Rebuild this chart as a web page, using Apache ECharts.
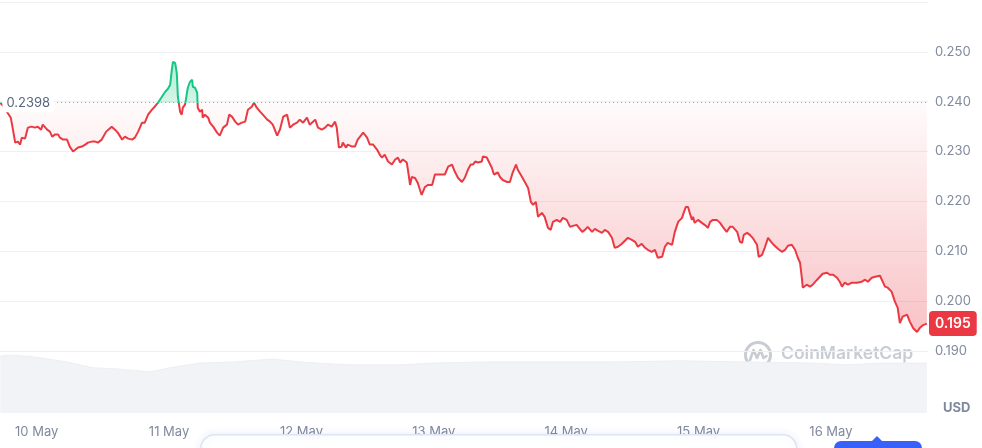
<!DOCTYPE html>
<html>
<head>
<meta charset="utf-8">
<script src="https://cdn.jsdelivr.net/npm/echarts@6/dist/echarts.min.js"></script>
<style>
html,body{margin:0;padding:0;background:#ffffff;}
#chart{width:982px;height:448px;}
</style>
</head>
<body>
<div id="chart"></div>
<script>
// ---- data ----
const monthNames = ['Jan','Feb','Mar','Apr','May','Jun','Jul','Aug','Sep','Oct','Nov','Dec'];
const startDay = [2024, 4, 10];           // 10 May, hours below are offsets from its midnight
const axisHours = [-6.65, 161.6];          // visible time window (hours)
const openPrice = 0.2398;                  // baseline (opening price)
const lastPriceLabel = '0.195';
const yAxisRange = [0.19, 0.26];
const yInterval = 0.01;
const volumeRange = [0, 100];

// [hour offset, price USD]
const pricePoints = [
[-6.6,0.2398],[-6.1,0.2392],[-4.7,0.2368],[-4.3,0.2344],[-3.9,0.2318],[-3.6,0.2314],[-3.4,0.2320],[-3.0,0.2314],[-2.7,0.2328],[-2.1,0.2326],
[-1.6,0.2348],[-0.9,0.2350],[-0.3,0.2348],[0.2,0.2350],[0.8,0.2344],[1.1,0.2354],[1.9,0.2344],[2.4,0.2340],[2.8,0.2330],[3.3,0.2334],
[3.9,0.2334],[4.2,0.2328],[4.8,0.2324],[5.5,0.2324],[6.0,0.2310],[6.6,0.2300],[6.9,0.2298],[7.5,0.2308],[8.2,0.2310],[8.8,0.2314],
[9.3,0.2318],[10.0,0.2320],[10.6,0.2320],[11.1,0.2318],[11.8,0.2324],[12.6,0.2340],[12.9,0.2344],[13.6,0.2350],[14.2,0.2344],[14.7,0.2338],
[15.5,0.2324],[16.0,0.2330],[16.6,0.2326],[17.3,0.2324],[17.8,0.2328],[18.4,0.2340],[19.1,0.2358],[19.6,0.2358],[20.2,0.2374],[20.9,0.2384],
[21.4,0.2390],[22.0,0.2398],[22.7,0.2410],[23.3,0.2420],[23.8,0.2426],[24.2,0.2434],[24.5,0.2464],[24.7,0.2480],[25.1,0.2478],[25.4,0.2458],
[25.6,0.2410],[26.0,0.2380],[26.3,0.2374],[26.5,0.2388],[26.9,0.2394],[27.2,0.2398],[27.4,0.2428],[27.8,0.2440],[28.2,0.2444],[28.3,0.2430],
[28.7,0.2428],[29.1,0.2418],[29.2,0.2388],[29.6,0.2380],[30.0,0.2384],[30.1,0.2368],[30.5,0.2374],[31.1,0.2368],[31.4,0.2358],[32.0,0.2350],
[32.7,0.2338],[33.2,0.2332],[33.8,0.2348],[34.5,0.2354],[34.9,0.2374],[35.4,0.2370],[36.0,0.2360],[36.5,0.2354],[37.2,0.2358],[37.8,0.2360],
[38.3,0.2384],[39.0,0.2390],[39.4,0.2398],[39.9,0.2388],[40.5,0.2380],[41.0,0.2374],[41.8,0.2364],[42.3,0.2360],[42.8,0.2354],[43.6,0.2332],
[44.1,0.2344],[44.7,0.2370],[45.4,0.2374],[45.9,0.2348],[46.5,0.2354],[47.2,0.2358],[47.7,0.2364],[48.3,0.2358],[49.0,0.2368],[49.5,0.2354],
[50.1,0.2360],[50.5,0.2364],[51.0,0.2348],[51.7,0.2344],[52.3,0.2348],[52.8,0.2354],[53.5,0.2350],[54.1,0.2360],[54.4,0.2348],[54.8,0.2308],
[55.3,0.2310],[55.5,0.2318],[56.1,0.2308],[56.4,0.2314],[57.2,0.2310],[57.7,0.2310],[58.2,0.2324],[59.2,0.2338],[59.9,0.2328],[60.4,0.2314],
[61.0,0.2314],[61.7,0.2304],[62.2,0.2294],[62.6,0.2288],[63.1,0.2294],[63.7,0.2280],[64.4,0.2274],[65.0,0.2284],[65.5,0.2288],[65.9,0.2278],
[66.4,0.2284],[67.1,0.2278],[67.3,0.2264],[67.7,0.2233],[68.0,0.2249],[68.6,0.2247],[69.1,0.2237],[69.5,0.2223],[69.8,0.2213],[70.4,0.2229],
[70.9,0.2233],[71.7,0.2233],[72.2,0.2254],[72.7,0.2254],[73.5,0.2254],[74.0,0.2254],[74.6,0.2270],[75.3,0.2274],[75.8,0.2260],[76.4,0.2247],
[77.1,0.2239],[77.6,0.2247],[78.2,0.2264],[78.7,0.2274],[79.1,0.2274],[79.5,0.2280],[80.0,0.2278],[80.7,0.2280],[80.9,0.2290],[81.6,0.2288],
[81.8,0.2284],[82.5,0.2268],[82.9,0.2254],[83.6,0.2258],[84.0,0.2249],[84.5,0.2243],[85.3,0.2239],[85.8,0.2239],[86.3,0.2258],[86.9,0.2274],
[87.2,0.2264],[88.0,0.2249],[88.5,0.2239],[89.1,0.2227],[89.6,0.2199],[90.0,0.2193],[90.5,0.2199],[90.9,0.2169],[91.2,0.2165],[91.6,0.2177],
[92.1,0.2169],[92.7,0.2147],[93.2,0.2143],[93.6,0.2159],[94.3,0.2163],[94.9,0.2159],[95.4,0.2167],[96.1,0.2163],[96.7,0.2149],[97.2,0.2151],
[97.9,0.2153],[98.9,0.2139],[99.4,0.2143],[99.9,0.2149],[100.7,0.2139],[101.2,0.2145],[101.8,0.2141],[102.5,0.2137],[103.0,0.2143],[103.6,0.2139],
[104.3,0.2127],[104.8,0.2107],[105.4,0.2109],[106.1,0.2115],[107.2,0.2127],[107.9,0.2123],[108.5,0.2119],[109.0,0.2109],[109.7,0.2115],[110.3,0.2107],
[110.8,0.2103],[111.5,0.2099],[112.1,0.2103],[112.6,0.2087],[113.4,0.2089],[113.9,0.2109],[114.4,0.2117],[115.2,0.2113],[115.7,0.2139],[116.3,0.2159],
[117.0,0.2167],[117.3,0.2177],[117.7,0.2189],[118.1,0.2189],[118.4,0.2177],[118.8,0.2163],[119.0,0.2169],[119.3,0.2157],[119.9,0.2163],[120.6,0.2157],
[121.1,0.2153],[121.7,0.2147],[122.1,0.2159],[122.6,0.2163],[123.3,0.2163],[123.9,0.2157],[124.4,0.2149],[125.1,0.2139],[125.7,0.2149],[126.2,0.2149],
[127.0,0.2139],[127.5,0.2119],[127.9,0.2117],[128.2,0.2133],[128.8,0.2137],[129.3,0.2133],[129.8,0.2127],[130.6,0.2113],[130.9,0.2089],[131.5,0.2093],
[132.0,0.2107],[132.6,0.2127],[133.3,0.2117],[133.8,0.2111],[134.4,0.2105],[135.1,0.2099],[135.7,0.2103],[136.2,0.2111],[136.9,0.2113],[137.5,0.2103],
[138.0,0.2087],[138.4,0.2077],[138.7,0.2049],[138.9,0.2027],[139.6,0.2033],[140.2,0.2029],[140.7,0.2033],[141.5,0.2043],[142.0,0.2049],[142.5,0.2055],
[143.3,0.2057],[143.8,0.2053],[144.4,0.2053],[145.1,0.2047],[145.6,0.2039],[146.0,0.2029],[146.5,0.2037],[147.1,0.2033],[147.8,0.2037],[148.7,0.2037],
[149.6,0.2039],[150.2,0.2043],[150.7,0.2039],[151.4,0.2047],[152.0,0.2049],[152.9,0.2051],[153.2,0.2047],[153.8,0.2029],[154.3,0.2027],[155.0,0.2019],
[155.6,0.1999],[156.1,0.1987],[156.5,0.1956],[157.0,0.1969],[157.8,0.1973],[158.3,0.1959],[158.9,0.1946],[159.6,0.1938],[160.1,0.1946],[160.7,0.1952],
[161.4,0.1955]
];

// [hour offset, relative volume]
const volumePoints = [
[-6.6,98],[-4.8,100],[-0.7,97],[5.5,88],[10.2,78],[14.6,76],[20.5,71],[24.7,79],[29.6,86],[35.6,88],
[42.8,93],[47.7,88],[50.8,86],[56.8,83],[65.8,83],[71.8,86],[80.9,88],[92.5,88],[104.5,88],[116.6,90],
[128.8,88],[140.7,86],[146.9,83],[152.9,86],[161.4,86]
];

// ---- chart ----
const t0 = new Date(startDay[0], startDay[1], startDay[2]).getTime();
const HOUR = 3600 * 1000;
const toTime = h => t0 + h * HOUR;
const xMin = toTime(axisHours[0]);
const xMax = toTime(axisHours[1]);

const lineData = pricePoints.map(([h, p]) => [toTime(h), p]);
const redAreaData = pricePoints.map(([h, p]) => [toTime(h), Math.min(p, openPrice)]);
const greenAreaData = pricePoints.map(([h, p]) => [toTime(h), Math.max(p, openPrice)]);
const volumeData = volumePoints.map(([h, v]) => [toTime(h), v]);
const lastPoint = lineData[lineData.length - 1];

const RED = '#ea3943';
const GREEN = '#16c784';
const FONT = 'Inter, "Noto Sans", sans-serif';

const chart = echarts.init(document.getElementById('chart'), null, {renderer: 'canvas'});

const option = {
  animation: false,
  backgroundColor: '#ffffff',
  grid: [
    {left: 0, right: 54, top: 2, bottom: 97},
    {left: 0, right: 54, top: 355, bottom: 35}
  ],
  xAxis: [
    {type: 'time', gridIndex: 0, min: xMin, max: xMax, show: false},
    {
      type: 'time', gridIndex: 1, min: xMin, max: xMax,
      minInterval: 24 * HOUR, maxInterval: 24 * HOUR,
      axisLine: {show: false}, axisTick: {show: false}, splitLine: {show: false},
      axisLabel: {
        color: '#808a9d', fontSize: 13, fontFamily: FONT, margin: 13,
        showMinLabel: false, showMaxLabel: false,
        formatter: v => { const d = new Date(v); return d.getDate() + ' ' + monthNames[d.getMonth()]; }
      }
    }
  ],
  yAxis: [
    {
      type: 'value', gridIndex: 0, position: 'right',
      min: yAxisRange[0], max: yAxisRange[1], interval: yInterval,
      axisLine: {show: false}, axisTick: {show: false},
      splitLine: {lineStyle: {color: '#eef0f3', width: 1}},
      axisLabel: {
        color: '#808a9d', fontSize: 13, fontFamily: FONT, margin: 7,
        formatter: v => (Math.abs(v - yAxisRange[1]) < 1e-9 ? '' : v.toFixed(3))
      }
    },
    {type: 'value', gridIndex: 1, min: volumeRange[0], max: volumeRange[1], show: false}
  ],
  visualMap: {
    type: 'piecewise', show: false, seriesIndex: 0, dimension: 1,
    pieces: [
      {gt: openPrice, lte: 1, color: GREEN},
      {gte: 0, lte: openPrice, color: RED}
    ],
    outOfRange: {color: RED}
  },
  series: [
    {
      type: 'line', xAxisIndex: 0, yAxisIndex: 0, data: lineData,
      symbol: 'none', showSymbol: false, z: 5,
      lineStyle: {width: 2}
    },
    {
      type: 'line', xAxisIndex: 0, yAxisIndex: 0, data: redAreaData,
      symbol: 'none', silent: true, z: 2,
      lineStyle: {width: 0, opacity: 0},
      areaStyle: {
        origin: openPrice, opacity: 1,
        color: {type: 'linear', x: 0, y: 0, x2: 0, y2: 1, colorStops: [
          {offset: 0, color: 'rgba(234,57,67,0.02)'},
          {offset: 1, color: 'rgba(234,57,67,0.30)'}
        ]}
      },
      markLine: {
        silent: true, symbol: ['none', 'none'], z: 10,
        lineStyle: {type: [1, 3], color: '#9aa1ab', width: 1},
        label: {
          position: 'start', distance: 3, formatter: String(openPrice),
          color: '#58667e', fontSize: 13, fontFamily: FONT,
          backgroundColor: '#ffffff', padding: [3, 4]
        },
        data: [[{coord: [toTime(3.7), openPrice]}, {coord: [xMax, openPrice]}]]
      }
    },
    {
      type: 'line', xAxisIndex: 0, yAxisIndex: 0, data: greenAreaData,
      symbol: 'none', silent: true, z: 2, clip: false,
      lineStyle: {width: 0, opacity: 0},
      areaStyle: {
        origin: openPrice, opacity: 1,
        color: {type: 'linear', x: 0, y: 0, x2: 0, y2: 1, colorStops: [
          {offset: 0, color: 'rgba(22,199,132,0.32)'},
          {offset: 1, color: 'rgba(22,199,132,0.18)'}
        ]}
      },
      markLine: {
        silent: true, symbol: ['none', 'none'], z: 10,
        lineStyle: {width: 1, color: 'rgba(0,0,0,0)', opacity: 1},
        label: {
          show: true, position: 'end', distance: 1, formatter: lastPriceLabel,
          color: '#ffffff', fontSize: 14, fontWeight: 600, fontFamily: FONT, opacity: 1,
          backgroundColor: RED, borderRadius: 4, padding: [4, 6], lineHeight: 17
        },
        data: [[{coord: [lastPoint[0], lastPoint[1]]}, {coord: [xMax, lastPoint[1]]}]]
      }
    },
    {
      type: 'line', xAxisIndex: 1, yAxisIndex: 1, data: volumeData,
      symbol: 'none', silent: true, z: 1,
      lineStyle: {width: 1, color: '#eceef2'},
      areaStyle: {color: '#f1f3f6', opacity: 1}
    }
  ],
  graphic: [
    {
      type: 'group', left: 743, top: 340, silent: true,
      children: [
        {type: 'circle', shape: {cx: 14, cy: 14, r: 12.5}, style: {fill: 'none', stroke: '#c8ccd3', lineWidth: 3}},
        {type: 'polyline', shape: {points: [[6, 19], [9.5, 9], [13, 17], [16.5, 9], [19.5, 17], [22.5, 15]]},
         style: {fill: 'none', stroke: '#c8ccd3', lineWidth: 2.6, lineJoin: 'round', lineCap: 'round'}}
      ]
    },
    {
      type: 'text', left: 781, top: 345, silent: true,
      style: {text: 'CoinMarketCap', fill: '#c8ccd3', font: '600 17.5px ' + FONT}
    },
    {
      type: 'text', left: 943, top: 402, silent: true,
      style: {text: 'USD', fill: '#808a9d', font: 'bold 13px ' + FONT}
    },
    {
      type: 'rect', left: 200, top: 434, silent: true, z: 100,
      shape: {width: 596, height: 40, r: 14},
      style: {fill: 'rgba(255,255,255,0.94)', stroke: '#dfe4ee', lineWidth: 1.5,
              shadowBlur: 8, shadowColor: 'rgba(56,97,251,0.10)'}
    },
    {
      type: 'rect', left: 834, top: 441, silent: true, z: 100,
      shape: {width: 88, height: 20, r: 7},
      style: {fill: '#3861fb'}
    },
    {
      type: 'polygon', silent: true, z: 100,
      shape: {points: [[871, 442], [877, 436], [883, 442]]},
      style: {fill: '#3861fb'}
    }
  ]
};

chart.setOption(option);
</script>
</body>
</html>
